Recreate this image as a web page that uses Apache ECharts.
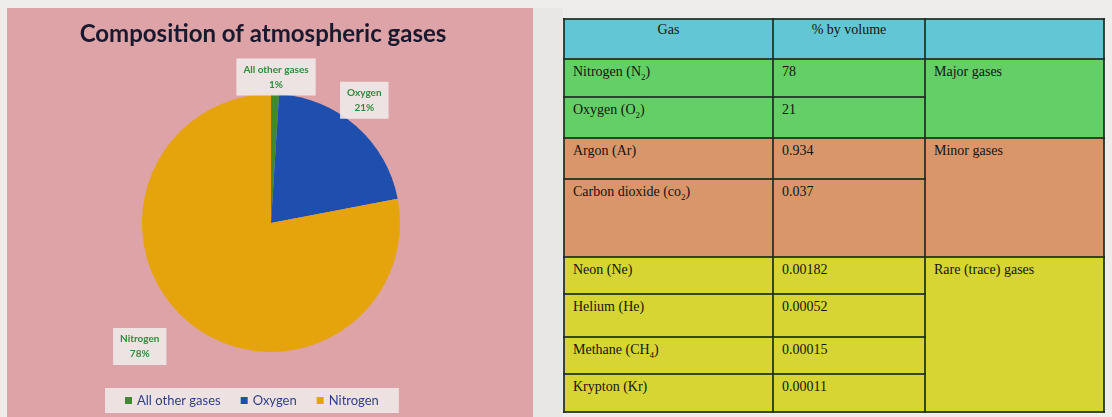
<!DOCTYPE html>
<html>
<head>
<meta charset="utf-8">
<script src="https://cdn.jsdelivr.net/npm/echarts@6/dist/echarts.min.js"></script>
<style>
  html, body { margin: 0; padding: 0; width: 1112px; height: 417px; background: #efecec; overflow: hidden; }
  #chart { position: absolute; left: 7px; top: 8px; width: 526px; height: 409px; background: #dea3a6; }
  #strip { position: absolute; left: 533px; top: 8px; width: 30px; height: 409px; background: #e9e6e6; }
  #tbl { position: absolute; left: 563px; top: 18px; border-collapse: collapse; font-family: "Liberation Serif", "DejaVu Serif", serif; font-size: 14px; color: #15150f; }
  #tbl td, #tbl th { border: 2px solid rgba(28,45,32,0.85); padding: 4px 8px 0 8px; vertical-align: top; text-align: left; font-weight: normal; box-sizing: border-box; }
  #tbl th { text-align: center; background: #63c6d5; padding-top: 2px; }
  #tbl sub { font-size: 9px; }
</style>
</head>
<body>
<div id="chart"></div>
<div id="strip"></div>
<table id="tbl"></table>
<script>
// ---- data ----
const titleText = 'Composition of atmospheric gases';
const pieNames = ['All other gases', 'Oxygen', 'Nitrogen'];
const pieValues = [1, 21, 78];
const tableHeader = ['Gas', '% by volume', ''];
const gasNames = ['Nitrogen (N<sub>2</sub>)', 'Oxygen (O<sub>2</sub>)', 'Argon (Ar)', 'Carbon dioxide (co<sub>2</sub>)',
                  'Neon (Ne)', 'Helium (He)', 'Methane (CH<sub>4</sub>)', 'Krypton (Kr)'];
const gasVolumes = ['78', '21', '0.934', '0.037', '0.00182', '0.00052', '0.00015', '0.00011'];
const groupNames = ['Major gases', 'Minor gases', 'Rare (trace) gases'];
const groupSizes = [2, 2, 4];

// ---- styles ----
const pieColors = ['#3f8a2e', '#1f4fae', '#e5a40c'];
const labelOffsets = [[1, -17], [8, -26], [-49, 24]];
const groupColors = ['#63cf66', '#d9966b', '#d6d534'];
const colWidths = [209, 152, 179];
const headerHeight = 40;
const rowHeights = [38, 41, 41, 78, 37, 43, 37, 38];

// ---- table ----
const tbl = document.getElementById('tbl');
let html = '<tr style="height:' + headerHeight + 'px">';
tableHeader.forEach((h, i) => { html += '<th style="width:' + colWidths[i] + 'px">' + h + '</th>'; });
html += '</tr>';
let r = 0;
groupSizes.forEach((n, g) => {
  for (let k = 0; k < n; k++) {
    const bg = groupColors[g];
    html += '<tr style="height:' + rowHeights[r] + 'px">';
    html += '<td style="background:' + bg + '">' + gasNames[r] + '</td>';
    html += '<td style="background:' + bg + '">' + gasVolumes[r] + '</td>';
    if (k === 0) html += '<td rowspan="' + n + '" style="background:' + bg + '">' + groupNames[g] + '</td>';
    html += '</tr>';
    r++;
  }
});
tbl.innerHTML = html;

// ---- chart ----
const chart = echarts.init(document.getElementById('chart'));
chart.setOption({
  backgroundColor: 'transparent',
  animation: false,
  title: {
    text: titleText,
    left: 251, top: 9, textAlign: 'center',
    textStyle: { fontFamily: 'Lato', fontWeight: 'bold', fontSize: 24, color: '#18182e' }
  },
  legend: {
    left: 98, top: 380,
    data: pieNames,
    icon: 'rect', itemWidth: 7, itemHeight: 7, itemGap: 20,
    backgroundColor: 'rgba(240,236,236,0.85)',
    padding: [6, 20],
    textStyle: { fontFamily: 'Lato', fontSize: 13, color: '#2f3f8a' }
  },
  series: [{
    type: 'pie',
    center: [264, 215],
    radius: 129,
    startAngle: 90,
    clockwise: true,
    avoidLabelOverlap: false,
    color: pieColors,
    data: pieNames.map((n, i) => ({ name: n, value: pieValues[i] })),
    itemStyle: { borderWidth: 0 },
    label: {
      show: true,
      position: 'outside',
      formatter: '{b}\n{c}%',
      color: '#2e8c3c',
      fontFamily: 'Lato',
      fontWeight: 'bold',
      fontSize: 10,
      lineHeight: 15,
      align: 'center',
      backgroundColor: 'rgba(238,234,234,0.9)',
      padding: [4, 7, 3, 7]
    },
    labelLine: { show: true, length: 0, length2: 0, lineStyle: { opacity: 0 } },
    labelLayout: function (params) {
      const p = params.labelLinePoints;
      const off = labelOffsets[params.dataIndex];
      if (!p) return {};
      return { x: p[0][0] + off[0], y: p[0][1] + off[1], align: 'center', verticalAlign: 'middle' };
    }
  }]
});
</script>
</body>
</html>
